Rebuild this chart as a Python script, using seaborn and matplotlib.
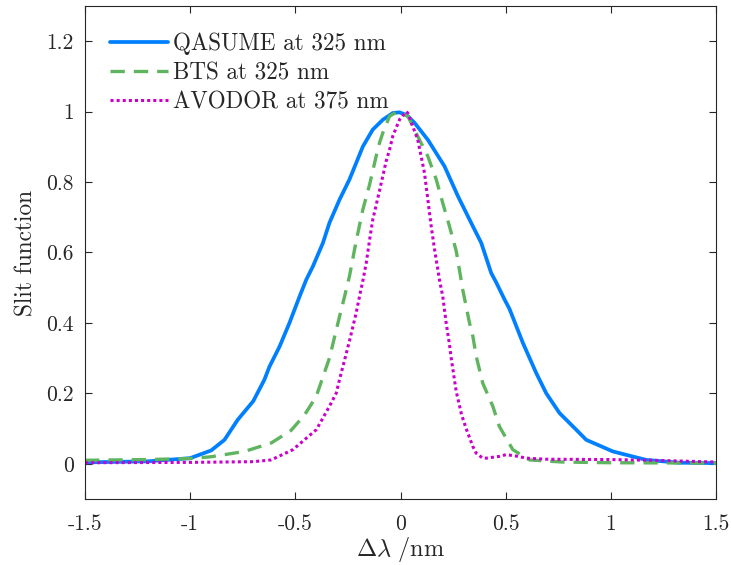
import matplotlib
matplotlib.use("Agg")
import matplotlib.pyplot as plt
import seaborn as sns
import pandas as pd

# QASUME at 325 nm
qasume_x = [-1.5, -1.2, -1.0, -0.9, -0.837, -0.774, -0.70, -0.647, -0.623, -0.575, -0.528,
            -0.48, -0.448, -0.417, -0.369, -0.338, -0.29, -0.243, -0.211, -0.179, -0.132,
            -0.084, -0.037, -0.005, 0.03, 0.067, 0.13, 0.209, 0.273, 0.336, 0.384, 0.431,
            0.455, 0.495, 0.518, 0.582, 0.645, 0.693, 0.756, 0.835, 0.883, 1.01, 1.168,
            1.327, 1.5]
qasume_y = [0.004, 0.007, 0.016, 0.038, 0.068, 0.125, 0.178, 0.239, 0.276, 0.333, 0.40,
            0.475, 0.523, 0.56, 0.627, 0.684, 0.75, 0.807, 0.854, 0.901, 0.949,
            0.977, 0.996, 0.998, 0.99, 0.968, 0.92, 0.845, 0.76, 0.684, 0.627, 0.542,
            0.515, 0.466, 0.44, 0.343, 0.258, 0.20, 0.144, 0.097, 0.068, 0.035, 0.011,
            0.003, 0.002]

# BTS at 325 nm
bts_x = [-1.5, -1.2, -1.0, -0.9, -0.742, -0.615, -0.52, -0.456, -0.401, -0.338, -0.29,
         -0.266, -0.243, -0.211, -0.179, -0.147, -0.116, -0.1, -0.084, -0.052, -0.015,
         0.035, 0.082, 0.13, 0.17, 0.201, 0.233, 0.265, 0.296, 0.328, 0.344, 0.36, 0.391,
         0.439, 0.47, 0.534, 0.613, 0.77, 1.0, 1.5]
bts_y = [0.01, 0.012, 0.015, 0.02, 0.035, 0.059, 0.095, 0.139, 0.191, 0.30, 0.418,
         0.475, 0.532, 0.632, 0.722, 0.793, 0.873, 0.911, 0.94, 0.987, 1.0,
         0.987, 0.93, 0.873, 0.807, 0.74, 0.674, 0.604, 0.494, 0.40, 0.362, 0.305, 0.229,
         0.163, 0.106, 0.04, 0.011, 0.005, 0.003, 0.002]

# AVODOR at 375 nm
avodor_x = [-1.5, -1.0, -0.7, -0.615, -0.512, -0.40, -0.338, -0.306, -0.29, -0.243, -0.211,
            -0.195, -0.179, -0.163, -0.147, -0.132, -0.1, -0.068, -0.052, -0.037, -0.005,
            0.027, 0.035, 0.082, 0.114, 0.13, 0.146, 0.162, 0.185, 0.201, 0.217, 0.233,
            0.241, 0.265, 0.29, 0.312, 0.344, 0.36, 0.391, 0.407, 0.47, 0.502, 0.55, 0.598,
            0.69, 1.0, 1.2, 1.5]
avodor_y = [0.003, 0.004, 0.006, 0.011, 0.04, 0.097, 0.163, 0.20, 0.239, 0.348, 0.428,
            0.475, 0.52, 0.57, 0.636, 0.693, 0.775, 0.86, 0.892, 0.93, 0.977,
            1.0, 0.996, 0.92, 0.826, 0.75, 0.674, 0.608, 0.523, 0.475, 0.40, 0.338,
            0.30, 0.205, 0.14, 0.10, 0.049, 0.03, 0.016, 0.016, 0.021, 0.026, 0.022, 0.016,
            0.013, 0.012, 0.01, 0.005]

labels = ["QASUME at 325 nm", "BTS at 325 nm", "AVODOR at 375 nm"]
colors = ["#0080ff", "#5fb55f", "#cc00cc"]

sns.set_style("ticks")
plt.rcParams["font.family"] = ["cmr10", "DejaVu Serif"]
plt.rcParams["mathtext.fontset"] = "cm"
plt.rcParams["axes.unicode_minus"] = False
plt.rcParams["axes.formatter.use_mathtext"] = True

fig = plt.figure(figsize=(7.31, 5.65), dpi=100)
ax = fig.add_axes([0.1163, 0.1168, 0.8632, 0.8726])

df_q = pd.DataFrame({"x": qasume_x, "y": qasume_y})
df_b = pd.DataFrame({"x": bts_x, "y": bts_y})
df_a = pd.DataFrame({"x": avodor_x, "y": avodor_y})

sns.lineplot(data=df_q, x="x", y="y", ax=ax, color=colors[0], lw=2.7, label=labels[0], sort=False)
sns.lineplot(data=df_b, x="x", y="y", ax=ax, color=colors[1], lw=2.4, label=labels[1], sort=False,
             linestyle=(0, (4.3, 2.7)))
sns.lineplot(data=df_a, x="x", y="y", ax=ax, color=colors[2], lw=2.2, label=labels[2], sort=False,
             linestyle=(0, (1.0, 1.0)))

ax.set_xlim(-1.5, 1.5)
ax.set_ylim(-0.1, 1.3)
ax.set_xticks([-1.5, -1, -0.5, 0, 0.5, 1, 1.5])
ax.set_xticklabels(["-1.5", "-1", "-0.5", "0", "0.5", "1", "1.5"])
ax.set_yticks([0, 0.2, 0.4, 0.6, 0.8, 1, 1.2])
ax.set_yticklabels(["0", "0.2", "0.4", "0.6", "0.8", "1", "1.2"])
ax.tick_params(direction="in", top=True, right=True, length=5, width=0.8,
               labelsize=15.5, colors="#262626")
ax.tick_params(axis="x", pad=11)
ax.tick_params(axis="y", pad=8)
for s in ax.spines.values():
    s.set_visible(True)
    s.set_linewidth(0.8)
    s.set_color("#262626")

ax.set_xlabel(r"$\Delta\lambda\ /\mathrm{nm}$", fontsize=17.5, labelpad=1)
ax.set_ylabel("Slit function", fontsize=16.8, labelpad=6)

ax.legend(loc="upper left", frameon=False, fontsize=16.7, handlelength=2.5,
          handletextpad=0.22, labelspacing=0.3, borderaxespad=0.4,
          bbox_to_anchor=(0.01, 0.984))

fig.savefig("out.png", dpi=100)
